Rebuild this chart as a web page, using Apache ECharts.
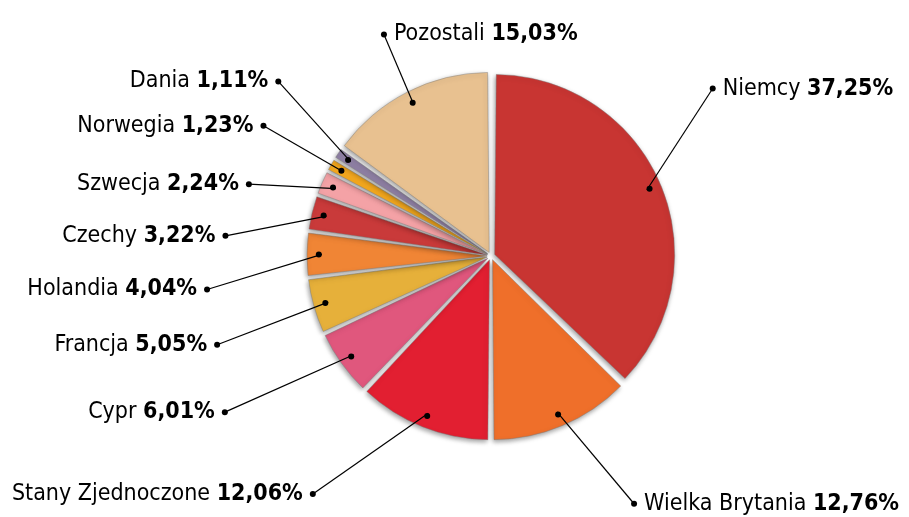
<!DOCTYPE html>
<html>
<head>
<meta charset="utf-8">
<script src="https://cdn.jsdelivr.net/npm/echarts@6/dist/echarts.min.js"></script>
<style>
  html, body { margin: 0; padding: 0; background: #fff; }
  #chart { width: 909px; height: 517px; }
</style>
</head>
<body>
<div id="chart"></div>
<script>
// shares by country, clockwise from 12 o'clock
const countries = ['Niemcy', 'Wielka Brytania', 'Stany Zjednoczone', 'Cypr', 'Francja', 'Holandia',
  'Czechy', 'Szwecja', 'Norwegia', 'Dania', 'Pozostali'];
const shares = [37.25, 12.76, 12.06, 6.01, 5.05, 4.04, 3.22, 2.24, 1.23, 1.11, 15.03];
const shareLabels = ['37,25%', '12,76%', '12,06%', '6,01%', '5,05%', '4,04%', '3,22%', '2,24%', '1,23%', '1,11%', '15,03%'];

const colors = ['#C83532', '#EF6F2A', '#E21F31', '#E0577D', '#E6B03A', '#F08535',
  '#C93A3A', '#F4A2A6', '#F2A71E', '#8E7FA3', '#E8C190'];
// leader line direction (deg, counter-clockwise from east) and length
const leaderAngle = [57, -50, -145, -156, -159, -163, -169, 177, 150, 132, 113];
const leaderLen = [121, 120, 141, 141, 119, 120, 103, 87, 93, 108, 77];

const CX = 491, CY = 256, R = 180;
const FONT = "'DejaVu Sans Condensed', 'Liberation Sans Narrow', 'Liberation Sans', sans-serif";
const FS = 23;

// text sits right of its line when the leader points right, or for the top slice
const textRight = leaderAngle.map((a) => Math.abs(a) < 90 || (a > 100 && a < 125));

const dot = { width: 6, height: 6, borderRadius: 3, backgroundColor: '#000' };

const chart = echarts.init(document.getElementById('chart'), null, { renderer: 'canvas' });

chart.setOption({
  animation: false,
  series: [
    {
      // the slices, all pulled slightly apart
      type: 'pie',
      center: [CX, CY],
      radius: [0, R],
      startAngle: 90,
      padAngle: 1,
      selectedMode: 'multiple',
      selectedOffset: 4,
      silent: true,
      itemStyle: {
        borderColor: 'rgba(120,120,120,0.7)',
        borderWidth: 0.6,
        shadowBlur: 5,
        shadowColor: 'rgba(0,0,0,0.4)',
        shadowOffsetX: -1,
        shadowOffsetY: 2
      },
      label: { show: false },
      labelLine: { show: false },
      data: countries.map((name, i) => ({
        name, value: shares[i], selected: true, itemStyle: { color: colors[i] }
      }))
    },
    {
      // leader lines start on the edge of this hidden inner pie
      type: 'pie',
      z: 3,
      center: [CX, CY],
      radius: [0, R * 0.94],
      startAngle: 90,
      silent: true,
      avoidLabelOverlap: false,
      itemStyle: { color: 'transparent' },
      label: {
        show: true,
        overflow: 'none',
        distanceToLabelLine: 0,
        fontFamily: FONT,
        fontSize: FS,
        color: '#000',
        formatter: (p) => {
          const i = p.dataIndex;
          const txt = '{n|' + p.name + ' }{v|' + shareLabels[i] + '}';
          return textRight[i] ? '{d|}{gap|}' + txt : txt + '{gap|}{d|}';
        },
        rich: {
          n: { fontFamily: FONT, fontSize: FS, color: '#000' },
          v: { fontFamily: FONT, fontSize: FS, fontWeight: 'bold', color: '#000' },
          d: dot,
          gap: { width: 7 }
        }
      },
      labelLine: {
        show: true,
        length: 20,
        length2: 0,
        lineStyle: { color: '#000', width: 1.2 }
      },
      labelLayout: (p) => {
        const pts = p.labelLinePoints;
        if (!pts) return {};
        const i = p.dataIndex;
        const a = leaderAngle[i] * Math.PI / 180;
        const start = pts[0];
        const end = [start[0] + Math.cos(a) * leaderLen[i], start[1] - Math.sin(a) * leaderLen[i]];
        const right = textRight[i];
        return {
          x: end[0] + (right ? -3 : 3),
          y: end[1],
          align: right ? 'left' : 'right',
          verticalAlign: 'middle',
          labelLinePoints: [start, end, end]
        };
      },
      data: countries.map((name, i) => ({ name, value: shares[i] }))
    },
    {
      // inner anchor dots of the leader lines
      type: 'pie',
      z: 4,
      center: [CX, CY],
      radius: [R * 0.88, R],
      startAngle: 90,
      silent: true,
      itemStyle: { color: 'transparent' },
      label: {
        show: true,
        position: 'inside',
        formatter: '{d|}',
        rich: { d: dot }
      },
      labelLine: { show: false },
      data: countries.map((name, i) => ({ name, value: shares[i] }))
    }
  ]
});
</script>
</body>
</html>
